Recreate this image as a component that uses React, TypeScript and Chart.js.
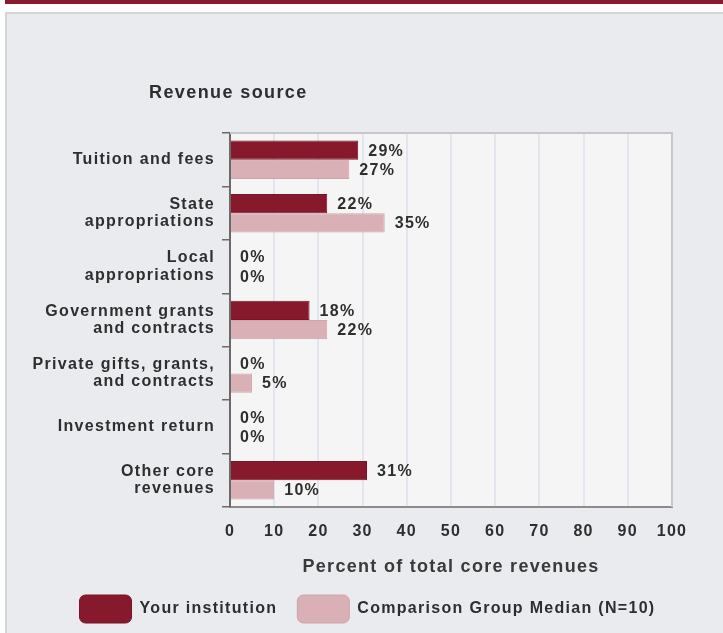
import React, { useEffect, useRef } from 'react';
import { Chart, registerables } from 'chart.js';

Chart.register(...registerables);

const categories: (string | string[])[] = [
  'Tuition and fees',
  ['State', 'appropriations'],
  ['Local', 'appropriations'],
  ['Government grants', 'and contracts'],
  ['Private gifts, grants,', 'and contracts'],
  'Investment return',
  ['Other core', 'revenues'],
];
const yourInstitution = [29, 22, 0, 18, 0, 0, 31];
const comparisonMedian = [27, 35, 0, 22, 5, 0, 10];
const seriesNames = ['Your institution', 'Comparison Group Median (N=10)'];
const xMin = 0;
const xMax = 100;
const xStep = 10;
const chartTitle = 'Revenue source';
const axisTitle = 'Percent of total core revenues';

const FONT = "'Liberation Sans', Arial, Helvetica, sans-serif";
const DARK = '#861a2c';
const LIGHT = '#d9b0b6';
const TEXT = '#2e2e2e';
const SPACING = '1.3px';

const spacingPlugin = {
  id: 'spacing',
  beforeLayout(chart: any) {
    chart.ctx.letterSpacing = SPACING;
  },
  beforeDraw(chart: any) {
    chart.ctx.letterSpacing = SPACING;
  },
};

const plotBgPlugin = {
  id: 'plotBg',
  beforeDraw(chart: any) {
    const { ctx, chartArea: a } = chart;
    ctx.save();
    ctx.fillStyle = '#f5f5f5';
    ctx.fillRect(a.left, a.top, a.right - a.left, a.bottom - a.top);
    ctx.restore();
  },
  beforeDatasetsDraw(chart: any) {
    const { ctx, chartArea: a } = chart;
    ctx.save();
    ctx.strokeStyle = '#c6c6cb';
    ctx.lineWidth = 2;
    ctx.beginPath();
    ctx.moveTo(a.left, a.top);
    ctx.lineTo(a.right, a.top);
    ctx.lineTo(a.right, a.bottom);
    ctx.stroke();
    ctx.restore();
  },
};

const valueLabelPlugin = {
  id: 'valueLabels',
  afterDatasetsDraw(chart: any) {
    const { ctx } = chart;
    ctx.save();
    ctx.font = `bold 16px ${FONT}`;
    ctx.fillStyle = TEXT;
    ctx.textAlign = 'left';
    ctx.textBaseline = 'middle';
    chart.data.datasets.forEach((ds: any, di: number) => {
      const meta = chart.getDatasetMeta(di);
      meta.data.forEach((bar: any, i: number) => {
        ctx.fillText(`${ds.data[i]}%`, bar.x + 10, bar.y + 1);
      });
    });
    ctx.restore();
  },
  afterDraw(chart: any) {
    const { ctx, chartArea: a } = chart;
    ctx.save();
    ctx.letterSpacing = '1.4px';
    ctx.font = `bold 18px ${FONT}`;
    ctx.fillStyle = TEXT;
    ctx.textAlign = 'left';
    ctx.textBaseline = 'middle';
    ctx.fillText(chartTitle, a.left - 81, 93);
    ctx.restore();
  },
};

export default function App() {
  const canvasRef = useRef<HTMLCanvasElement | null>(null);

  useEffect(() => {
    if (!canvasRef.current) return;
    const chart = new Chart(canvasRef.current, {
      type: 'bar',
      data: {
        labels: categories as any,
        datasets: [
          {
            label: seriesNames[0],
            data: yourInstitution,
            backgroundColor: DARK,
            borderColor: '#78142a',
            borderWidth: 1,
            categoryPercentage: 0.72,
            barPercentage: 1,
          },
          {
            label: seriesNames[1],
            data: comparisonMedian,
            backgroundColor: LIGHT,
            borderColor: '#cfa3aa',
            borderWidth: 1,
            categoryPercentage: 0.72,
            barPercentage: 1,
          },
        ],
      },
      options: {
        indexAxis: 'y',
        responsive: false,
        maintainAspectRatio: false,
        animation: false,
        layout: { padding: { left: 12, right: 0, top: 133, bottom: 0 } },
        scales: {
          x: {
            min: xMin,
            max: xMax,
            ticks: {
              stepSize: xStep,
              color: TEXT,
              padding: 15,
              font: { family: FONT, size: 16, weight: 'bold' },
            },
            grid: { color: '#e1e5ee', lineWidth: 2, drawTicks: false },
            border: { color: '#8c8c8c', width: 2 },
            title: {
              display: true,
              text: axisTitle,
              color: '#3a3a3a',
              font: { family: FONT, size: 18, weight: 'bold', lineHeight: 1 },
              padding: { top: 0, bottom: -1 },
            },
            afterFit: (s: any) => {
              s.height = 68;
            },
          },
          y: {
            position: 'left',
            grid: {
              display: true,
              drawOnChartArea: false,
              drawTicks: true,
              tickLength: 8,
              color: '#6a6a6a',
              lineWidth: 1.5,
            },
            border: { color: '#6a6a6a', width: 2 },
            ticks: {
              color: TEXT,
              padding: 7,
              font: { family: FONT, size: 16, weight: 'bold', lineHeight: 1.08 },
            },
            afterFit: (s: any) => {
              s.width = 218;
            },
          },
          yR: {
            type: 'category',
            position: 'right',
            display: true,
            grid: { display: false },
            border: { display: false },
            ticks: { display: false },
            afterFit: (s: any) => {
              s.width = 51;
            },
          },
        },
        plugins: {
          legend: {
            position: 'bottom',
            labels: {
              boxWidth: 52,
              boxHeight: 28,
              padding: 20,
              useBorderRadius: true,
              borderRadius: 6,
              color: TEXT,
              font: { family: FONT, size: 16, weight: 'bold' },
            },
          },
          title: { display: false },
          tooltip: { enabled: false },
        },
      } as any,
      plugins: [spacingPlugin, plotBgPlugin, valueLabelPlugin],
    });
    return () => chart.destroy();
  }, []);

  return (
    <div
      style={{
        position: 'absolute',
        left: 0,
        top: 0,
        width: 723,
        height: 633,
        background: '#ffffff',
        overflow: 'hidden',
      }}
    >
      <div
        style={{
          position: 'absolute',
          left: 5,
          top: 0,
          width: 718,
          height: 4,
          background: '#8a1a2e',
        }}
      />
      <div
        style={{
          position: 'absolute',
          left: 5,
          top: 12,
          width: 740,
          height: 650,
          background: '#eaebef',
          border: '2px solid #d4d4d7',
          boxSizing: 'border-box',
        }}
      />
      <canvas
        ref={canvasRef}
        width={723}
        height={633}
        style={{ position: 'absolute', left: 0, top: 0 }}
      />
    </div>
  );
}
